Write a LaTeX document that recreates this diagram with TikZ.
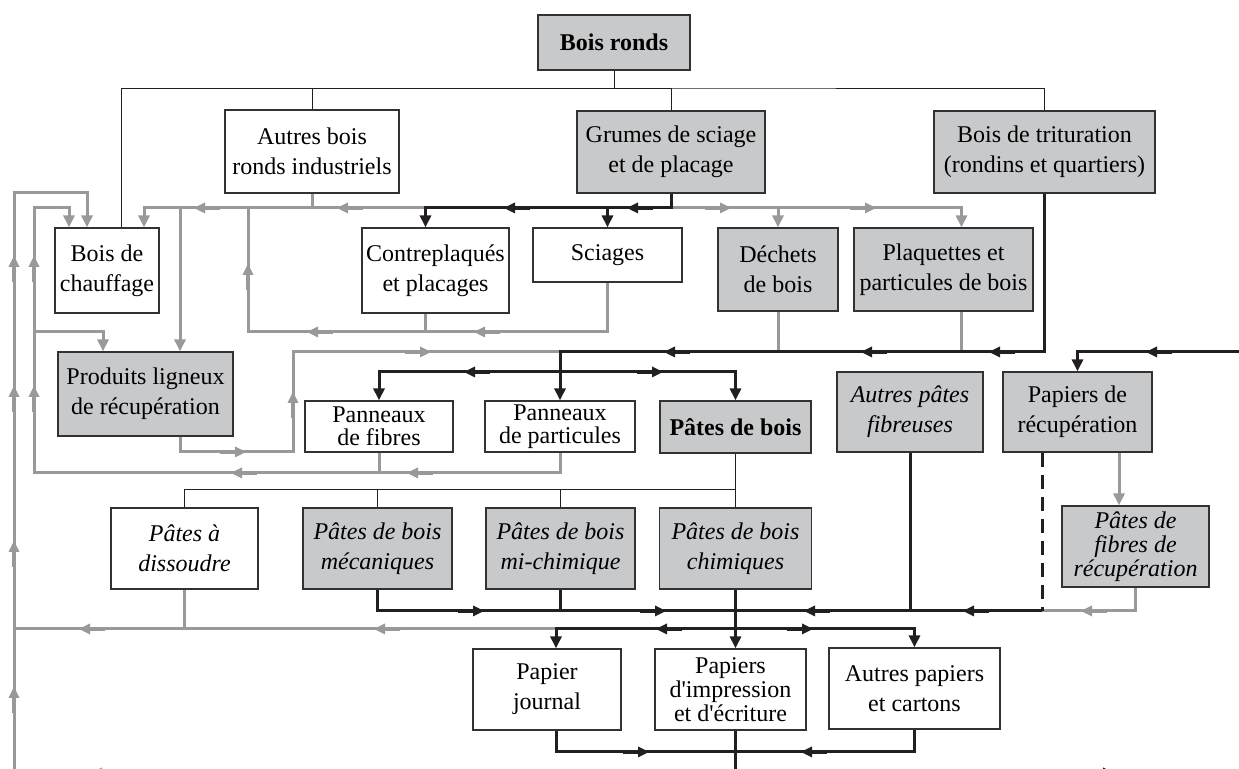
\documentclass[tikz,border=0pt]{standalone}
\usepackage{fontspec}
\setmainfont{Liberation Serif}
\usetikzlibrary{arrows.meta}
\definecolor{boxfill}{RGB}{200,201,203}
\definecolor{boxline}{RGB}{50,50,50}
\definecolor{flowgray}{RGB}{153,153,153}
\definecolor{ink}{RGB}{35,31,32}
\begin{document}
\begin{tikzpicture}[x=0.5pt,y=-0.5pt]
\tikzset{whitebox/.style={draw=boxline, line width=0.6pt, fill=white, inner sep=0pt, align=center, font=\fontsize{12}{15}\selectfont},
  greybox/.style={whitebox, fill=boxfill},
  ital/.style={font=\fontsize{12}{15}\selectfont\itshape},
  tree/.style={draw=ink, line width=0.5pt},
  flow/.style={draw=flowgray, line width=1.5pt},
  main/.style={draw=ink, line width=1.5pt},
  >={Triangle[length=6pt,width=5.5pt]},
  fwd/.pic={\draw[line width=2.3pt] (-20,0) -- (-4,0); \fill (6,0) -- (-5,5.5) -- (-5,-5.5) -- cycle;}}
\useasboundingbox (0,0) rectangle (1239,769);
\clip (0,0) rectangle (1239,769);
% boxes
\node[greybox, minimum width=76pt, minimum height=27.5pt] (ronds) at (614,42.5) {\textbf{Bois ronds}};
\node[whitebox, minimum width=87pt, minimum height=41.5pt] (autres) at (312,151.5) {Autres bois\\ronds industriels};
\node[greybox, minimum width=94pt, minimum height=41pt] (grumes) at (671,152) {Grumes de sciage\\et de placage};
\node[greybox, minimum width=110.5pt, minimum height=41pt] (trit) at (1044.5,152) {Bois de trituration\\(rondins et quartiers)};
\node[whitebox, minimum width=52pt, minimum height=42.5pt] (chauf) at (107,270.5) {Bois de\\chauffage};
\node[whitebox, minimum width=73.5pt, minimum height=42.5pt] (contre) at (435.5,270.5) {Contreplaqués\\et placages};
\node[whitebox, minimum width=74.5pt, minimum height=27pt] (sciag) at (607.5,255) {Sciages};
\node[greybox, minimum width=60pt, minimum height=41.5pt] (dechets) at (778,269.5) {Déchets\\de bois};
\node[greybox, minimum width=89.5pt, minimum height=41.5pt] (plaq) at (943.5,269.5) {Plaquettes et\\particules de bois};
\node[greybox, minimum width=87.5pt, minimum height=42pt] (recup) at (145.5,394) {Produits ligneux\\de récupération};
\node[whitebox, minimum width=74pt, minimum height=25.5pt] (fibres) at (379,426.5) {Panneaux\\[-3.5pt]de fibres};
\node[whitebox, minimum width=75pt, minimum height=25.5pt] (partic) at (560,426.5) {Panneaux\\[-3.5pt]de particules};
\node[greybox, minimum width=75.5pt, minimum height=26pt] (pates) at (735.5,427) {\textbf{Pâtes de bois}};
\node[greybox, ital, minimum width=73pt, minimum height=40pt] (autresp) at (910,412) {Autres pâtes\\fibreuses};
\node[greybox, minimum width=74.5pt, minimum height=40pt] (paprec) at (1077.5,412) {Papiers de\\récupération};
\node[whitebox, ital, minimum width=73.5pt, minimum height=40.5pt] (dissou) at (184.5,548.5) {Pâtes à\\dissoudre};
\node[greybox, ital, minimum width=74.5pt, minimum height=40.5pt] (meca) at (377.5,548.5) {Pâtes de bois\\mécaniques};
\node[greybox, ital, minimum width=74.5pt, minimum height=40.5pt] (michi) at (560.5,548.5) {Pâtes de bois\\mi-chimique};
\node[greybox, ital, minimum width=76pt, minimum height=40.5pt] (chim) at (735.5,548.5) {Pâtes de bois\\chimiques};
\node[greybox, ital, minimum width=73.5pt, minimum height=40.5pt] (fibrec) at (1135.5,546.5) {Pâtes de\\[-3pt]fibres de\\[-3pt]récupération};
\node[whitebox, minimum width=74pt, minimum height=40.5pt] (journal) at (547,689.5) {Papier\\journal};
\node[whitebox, minimum width=75.5pt, minimum height=40.5pt] (impr) at (730.5,689.5) {Papiers\\[-3pt]d\textquotesingle impression\\[-3pt]et d\textquotesingle écriture};
\node[whitebox, minimum width=85.5pt, minimum height=40.5pt] (autpap) at (914.5,688.5) {Autres papiers\\et cartons};
% junctions
\coordinate (hub) at (614,89);
\coordinate (pt) at (735.5,490);
\coordinate (g0) at (671,208);
\coordinate (c1) at (248,332);
\coordinate (m0) at (560,352);
\coordinate (m1) at (560,372);
\coordinate (r1) at (293,452);
\coordinate (r2) at (293,352);
\coordinate (l1) at (14,780);
\coordinate (l1t) at (14,193);
\coordinate (l2) at (34,473);
\coordinate (l2t) at (34,208);
\coordinate (e0) at (1250,352);
\coordinate (d0) at (1042,611);
\coordinate (p0) at (735.5,611);
\coordinate (p1) at (735.5,629);
\coordinate (b0) at (735.5,752);
% classification tree
\draw[tree] (ronds.south) -- (hub);
\draw[tree] ([xshift=7pt]chauf.north) |- (hub) -| (trit.north);
\draw[tree] (autres.north) |- (hub);
\draw[tree] (grumes.north) |- (hub);
\draw[tree] (pates.south) -- (chim.north);
\draw[tree] (dissou.north) |- (pt);
\draw[tree] (meca.north) |- (pt);
\draw[tree] (michi.north) |- (pt);
% grey flows
\draw[flow,->] (g0) -| ([xshift=18.5pt]chauf.north);
\draw[flow,->] (g0) -| (dechets.north);
\draw[flow,->] (dechets.north |- g0) -| ([xshift=9pt]plaq.north);
\draw[flow] (autres.south) -- (autres.south |- g0);
\draw[flow,->] ([xshift=17.25pt]recup.north |- g0) -- ([xshift=17.25pt]recup.north);
\draw[flow] ([xshift=-5pt]contre.south) -- ([xshift=-5pt]contre.south |- c1);
\draw[flow] (sciag.south) |- (c1) -- (c1 |- g0);
\draw[flow,->] (l1) -- (l1t) -| ([xshift=-10pt]chauf.north);
\draw[flow,->] (partic.south) |- (l2) -- (l2t) -| ([xshift=-19pt]chauf.north);
\draw[flow] (fibres.south) -- (fibres.south |- l2);
\draw[flow,->] (l2 |- c1) -| ([xshift=-21.25pt]recup.north);
\draw[flow] ([xshift=17.25pt]recup.south) |- (r1) -- (r2) -- (m0);
\draw[flow] (dechets.south) -- (dechets.south |- m0);
\draw[flow] ([xshift=9pt]plaq.south) -- ([xshift=9pt]plaq.south |- m0);
\draw[flow,->] ([xshift=20.75pt]paprec.south) -- ([xshift=20.75pt]paprec.south |- fibrec.north);
\draw[flow] (fibrec.south) |- (d0);
\draw[flow] ([xshift=4.5pt]journal.north |- p1) -- (l1 |- p1);
\draw[flow] (dissou.south) -- (dissou.south |- p1);
% black flows
\draw[main,->] (grumes.south) -- (g0) -| ([xshift=-5pt]contre.north);
\draw[main,->] (sciag.north |- g0) -- (sciag.north);
\draw[main,->] (trit.south) |- (m0) -- (partic.north);
\draw[main,->] (m1) -| (fibres.north);
\draw[main,->] (m1) -| (pates.north);
\draw[main,->] (e0) -| (paprec.north);
\draw[main, dash pattern=on 7pt off 4pt] ([xshift=-17.75pt]paprec.south) -- (d0);
\draw[main] (d0) -- (p0);
\draw[main] (meca.south) |- (p0);
\draw[main] (michi.south) -- (michi.south |- p0);
\draw[main] (autresp.south) -- (autresp.south |- p0);
\draw[main,->] (chim.south) -- (chim.south |- impr.north);
\draw[main,->] (p1) -| ([xshift=4.5pt]journal.north);
\draw[main,->] (p1) -| (autpap.north);
\draw[main] ([xshift=4.5pt]journal.south) |- (b0);
\draw[main] (autpap.south) |- (b0);
\draw[main] (b0 |- impr.south) -- (b0 |- l1);
% direction marks
\foreach \p in {(343,208),(200,208),(480,332),(313,332),(413,473),(237,473),(380,629),(85,629),(1087,611),(97,773)}
  \pic[flowgray,rotate=180] at \p {fwd};
\foreach \p in {(725,208),(870,208),(240,452),(425,352)}
  \pic[flowgray] at \p {fwd};
\foreach \p in {(248,270),(34,262),(34,392),(14,262),(14,392),(14,547),(14,693),(293,398)}
  \pic[flowgray,rotate=90] at \p {fwd};
\foreach \p in {(510,208),(633,208),(995,352),(867,352),(670,352),(1152,352),(470,372),(810,611),(969,611),(662,629),(807,752)}
  \pic[ink,rotate=180] at \p {fwd};
\foreach \p in {(657,372),(478,611),(660,611),(807,629),(643,752),(1108,773)}
  \pic[ink] at \p {fwd};
\end{tikzpicture}
\end{document}
